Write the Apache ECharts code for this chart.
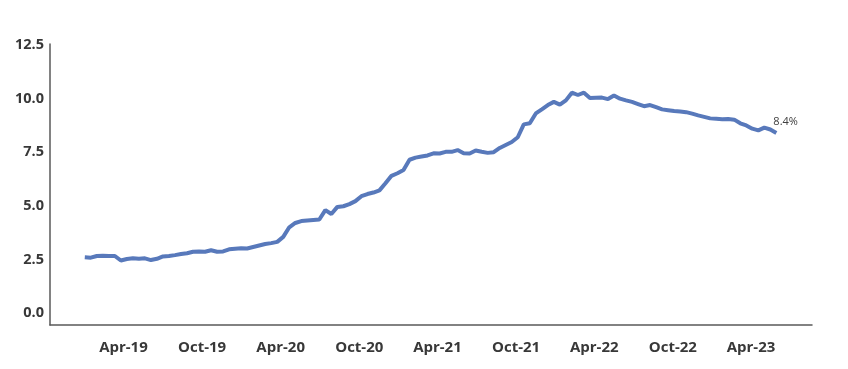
<!DOCTYPE html>
<html>
<head>
<meta charset="utf-8">
<script src="https://cdn.jsdelivr.net/npm/echarts@6/dist/echarts.min.js"></script>
<style>
html,body{margin:0;padding:0;background:#fff;}
#chart{width:848px;height:369px;}
</style>
</head>
<body>
<div id="chart"></div>
<script>
// Biweekly observations starting 1 Jan 2019
const startDate = [2019, 0, 1];
const stepDays = 14;
const values = [
  2.60, 2.58, 2.66, 2.67, 2.66, 2.66, 2.45, 2.52, 2.55, 2.53,
  2.55, 2.47, 2.53, 2.64, 2.66, 2.70, 2.75, 2.79, 2.86, 2.87,
  2.86, 2.93, 2.86, 2.87, 2.97, 3.00, 3.02, 3.01, 3.08, 3.15,
  3.22, 3.26, 3.32, 3.55, 4.00, 4.20, 4.29, 4.32, 4.34, 4.36,
  4.80, 4.62, 4.95, 4.98, 5.08, 5.22, 5.45, 5.55, 5.62, 5.72,
  6.05, 6.40, 6.52, 6.67, 7.15, 7.25, 7.30, 7.35, 7.45, 7.44,
  7.52, 7.52, 7.60, 7.45, 7.44, 7.58, 7.52, 7.47, 7.50, 7.70,
  7.84, 7.98, 8.20, 8.80, 8.85, 9.31, 9.50, 9.70, 9.85, 9.72,
  9.92, 10.28, 10.17, 10.28, 10.03, 10.04, 10.05, 9.98, 10.15, 10.00,
  9.92, 9.85, 9.75, 9.65, 9.70, 9.60, 9.50, 9.46, 9.42, 9.40,
  9.37, 9.30, 9.22, 9.15, 9.08, 9.06, 9.04, 9.05, 9.02, 8.85,
  8.75, 8.60, 8.52, 8.65, 8.56, 8.40
];
const xTickDates = [[2019,3,1],[2019,9,1],[2020,3,1],[2020,9,1],[2021,3,1],[2021,9,1],[2022,3,1],[2022,9,1],[2023,3,1]];
const yTickValues = [0, 2.5, 5, 7.5, 10, 12.5];
const monthNames = ['Jan','Feb','Mar','Apr','May','Jun','Jul','Aug','Sep','Oct','Nov','Dec'];

const DAY = 86400000;
const epoch = Date.UTC(startDate[0], startDate[1], startDate[2]);
const dayOf = (y, m, d) => Math.round((Date.UTC(y, m, d) - epoch) / DAY);
const seriesData = values.map((v, i) => [i * stepDays, v]);
const xTicks = xTickDates.map(d => dayOf(d[0], d[1], d[2]));
const tickLabel = {};
xTickDates.forEach((d, i) => { tickLabel[xTicks[i]] = monthNames[d[1]] + '-' + String(d[0]).slice(2); });

const chart = echarts.init(document.getElementById('chart'), null, {renderer: 'canvas'});
chart.setOption({
  animation: false,
  backgroundColor: '#ffffff',
  grid: {left: 50, right: 36, top: 44, bottom: 44, containLabel: false},
  xAxis: {
    type: 'value',
    min: dayOf(2018, 9, 12),
    max: dayOf(2023, 7, 21),
    axisLine: {show: true, onZero: false, lineStyle: {color: '#595959', width: 1.5}},
    axisTick: {show: false},
    splitLine: {show: false},
    axisLabel: {
      customValues: xTicks,
      margin: 15,
      color: '#383838',
      fontFamily: 'Open Sans',
      fontWeight: 'bold',
      fontSize: 15,
      formatter: v => tickLabel[Math.round(v)] || ''
    }
  },
  yAxis: {
    type: 'value',
    min: -0.56,
    max: 12.55,
    axisLine: {show: true, onZero: false, lineStyle: {color: '#595959', width: 1.5}},
    axisTick: {show: false},
    splitLine: {show: false},
    axisLabel: {
      customValues: yTickValues,
      margin: 6,
      color: '#383838',
      fontFamily: 'Open Sans',
      fontWeight: 'bold',
      fontSize: 14.5,
      formatter: v => v.toFixed(1)
    }
  },
  series: [{
    type: 'line',
    data: seriesData,
    showSymbol: false,
    symbol: 'none',
    smooth: false,
    lineStyle: {color: '#5879BB', width: 4},
    endLabel: {
      show: true,
      formatter: p => p.value[1].toFixed(1) + '%',
      color: '#404040',
      fontFamily: 'Open Sans',
      fontSize: 11,
      offset: [-11, -11]
    }
  }]
});
</script>
</body>
</html>
